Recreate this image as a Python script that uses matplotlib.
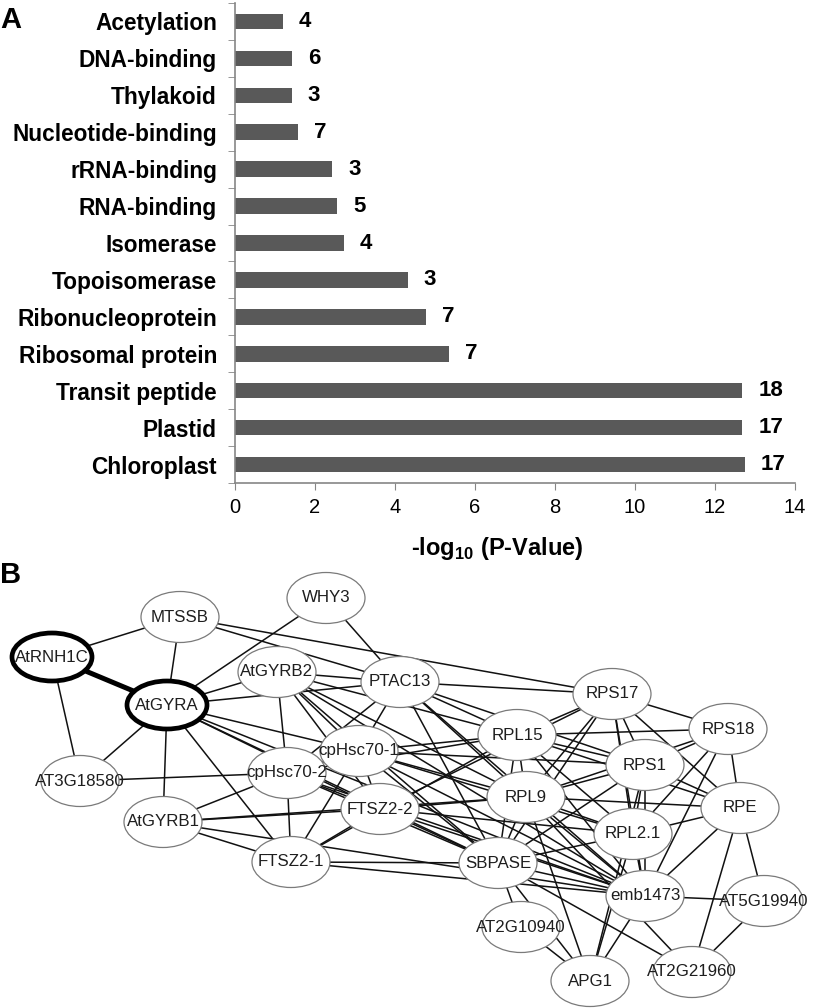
import matplotlib
matplotlib.use("Agg")
import matplotlib.pyplot as plt
from matplotlib.patches import Ellipse

plt.rcParams['font.family'] = ['Liberation Sans', 'DejaVu Sans']
plt.rcParams['mathtext.fontset'] = 'custom'
plt.rcParams['mathtext.rm'] = 'Liberation Sans'
plt.rcParams['mathtext.bf'] = 'Liberation Sans:bold'

# ---------------- Panel A data ----------------
categories = ["Chloroplast", "Plastid", "Transit peptide", "Ribosomal protein",
              "Ribonucleoprotein", "Topoisomerase", "Isomerase", "RNA-binding",
              "rRNA-binding", "Nucleotide-binding", "Thylakoid", "DNA-binding",
              "Acetylation"]
neglog_p = [12.75, 12.68, 12.68, 5.34, 4.77, 4.32, 2.72, 2.55, 2.43, 1.58, 1.42, 1.42, 1.20]
gene_counts = [17, 17, 18, 7, 7, 3, 4, 5, 3, 7, 3, 6, 4]
x_ticks = [0, 2, 4, 6, 8, 10, 12, 14]

# ---------------- Panel B data ----------------
nodes = ["MTSSB", "WHY3", "AtRNH1C", "AtGYRA", "AtGYRB2", "PTAC13", "cpHsc70-1",
         "cpHsc70-2", "AT3G18580", "AtGYRB1", "FTSZ2-2", "FTSZ2-1", "RPS17", "RPS18",
         "RPL15", "RPS1", "RPL9", "RPE", "RPL2.1", "SBPASE", "emb1473", "AT5G19940",
         "AT2G10940", "APG1", "AT2G21960"]
node_x = [180, 326, 52, 167, 277, 400, 359, 287, 80, 163, 380, 291, 612, 728,
          517, 645, 526, 740, 633, 498, 645, 764, 521, 590, 692]
node_y = [617, 598, 657, 705, 672, 682, 751, 773, 781, 822, 809, 862, 694, 729,
          735, 765, 797, 808, 834, 863, 896, 901, 927, 981, 972]
highlight = ["AtRNH1C", "AtGYRA"]
edges = [
    ("AtRNH1C", "MTSSB"), ("AtRNH1C", "AT3G18580"),
    ("MTSSB", "AtGYRA"), ("MTSSB", "PTAC13"), ("MTSSB", "RPS17"),
    ("WHY3", "AtGYRA"), ("WHY3", "PTAC13"),
    ("AtGYRA", "AtGYRB2"), ("AtGYRA", "PTAC13"), ("AtGYRA", "AT3G18580"),
    ("AtGYRA", "AtGYRB1"), ("AtGYRA", "FTSZ2-1"), ("AtGYRA", "FTSZ2-2"),
    ("AtGYRA", "cpHsc70-1"), ("AtGYRA", "SBPASE"), ("AtGYRA", "emb1473"),
    ("AtGYRB2", "PTAC13"), ("AtGYRB2", "cpHsc70-2"), ("AtGYRB2", "cpHsc70-1"),
    ("AtGYRB2", "FTSZ2-2"), ("AtGYRB2", "RPL9"), ("AtGYRB2", "SBPASE"),
    ("AtGYRB2", "emb1473"), ("AtGYRB2", "RPL15"),
    ("PTAC13", "cpHsc70-2"), ("PTAC13", "cpHsc70-1"), ("PTAC13", "RPS17"),
    ("PTAC13", "RPL15"), ("PTAC13", "RPL9"), ("PTAC13", "SBPASE"),
    ("PTAC13", "emb1473"), ("PTAC13", "RPS1"),
    ("cpHsc70-1", "cpHsc70-2"), ("cpHsc70-1", "RPL15"), ("cpHsc70-1", "RPS1"),
    ("cpHsc70-1", "RPL9"), ("cpHsc70-1", "FTSZ2-2"), ("cpHsc70-1", "FTSZ2-1"),
    ("cpHsc70-1", "SBPASE"), ("cpHsc70-1", "RPL2.1"), ("cpHsc70-1", "emb1473"),
    ("cpHsc70-2", "AT3G18580"), ("cpHsc70-2", "AtGYRB1"), ("cpHsc70-2", "FTSZ2-1"),
    ("cpHsc70-2", "FTSZ2-2"), ("cpHsc70-2", "SBPASE"), ("cpHsc70-2", "emb1473"),
    ("cpHsc70-2", "RPL15"),
    ("AtGYRB1", "FTSZ2-2"), ("AtGYRB1", "FTSZ2-1"), ("AtGYRB1", "RPL9"),
    ("AtGYRB1", "emb1473"),
    ("FTSZ2-1", "FTSZ2-2"), ("FTSZ2-1", "SBPASE"), ("FTSZ2-1", "emb1473"),
    ("FTSZ2-1", "RPL15"),
    ("FTSZ2-2", "RPL9"), ("FTSZ2-2", "SBPASE"), ("FTSZ2-2", "emb1473"),
    ("FTSZ2-2", "RPL2.1"), ("FTSZ2-2", "RPS17"),
    ("RPL15", "RPS17"), ("RPL15", "RPS18"), ("RPL15", "RPS1"), ("RPL15", "RPL9"),
    ("RPL15", "RPL2.1"), ("RPL15", "RPE"), ("RPL15", "emb1473"), ("RPL15", "SBPASE"),
    ("RPS17", "RPS18"), ("RPS17", "RPS1"), ("RPS17", "RPL9"), ("RPS17", "RPL2.1"),
    ("RPS17", "RPE"), ("RPS17", "emb1473"), ("RPS17", "SBPASE"),
    ("RPS18", "RPS1"), ("RPS18", "RPL9"), ("RPS18", "RPL2.1"), ("RPS18", "emb1473"),
    ("RPS18", "RPE"),
    ("RPS1", "RPL9"), ("RPS1", "RPL2.1"), ("RPS1", "RPE"), ("RPS1", "SBPASE"),
    ("RPS1", "emb1473"), ("RPS1", "APG1"),
    ("RPL9", "RPE"), ("RPL9", "RPL2.1"), ("RPL9", "SBPASE"), ("RPL9", "emb1473"),
    ("RPL9", "APG1"), ("RPL9", "AT2G21960"),
    ("RPL2.1", "RPE"), ("RPL2.1", "SBPASE"), ("RPL2.1", "emb1473"), ("RPL2.1", "APG1"),
    ("RPE", "emb1473"), ("RPE", "AT5G19940"), ("RPE", "AT2G21960"),
    ("SBPASE", "emb1473"), ("SBPASE", "AT2G10940"), ("SBPASE", "AT2G21960"),
    ("SBPASE", "APG1"),
    ("emb1473", "AT5G19940"), ("emb1473", "APG1"),
    ("AT2G10940", "APG1"), ("AT5G19940", "AT2G21960"),
]
thick_edges = [("AtRNH1C", "AtGYRA")]

# ---------------- Figure ----------------
fig = plt.figure(figsize=(8.19, 10.08), dpi=100)

W, H = 819.0, 1008.0
ax = fig.add_axes([235 / W, 1 - 483 / H, 560 / W, 480 / H])
ypos = list(range(len(categories)))
ax.barh(ypos, neglog_p, height=0.42, color='#595959', zorder=2)
for yy, v, c in zip(ypos, neglog_p, gene_counts):
    ax.annotate(str(c), (v, yy), xytext=(11.5, 0), textcoords='offset points',
                ha='left', va='center', fontsize=16, fontweight='bold', color='black')
ax.set_xlim(0, 14)
ax.set_ylim(-0.5, len(categories) - 0.5)
ax.set_xticks(x_ticks)
ax.set_xticklabels([str(t) for t in x_ticks], fontsize=14.5)
ax.set_yticks(ypos)
ax.set_yticklabels(categories, fontsize=16.3, fontweight='bold')
ax.set_yticks([i - 0.5 for i in range(len(categories) + 1)], minor=True)
ax.tick_params(axis='y', which='major', length=0, pad=13)
ax.tick_params(axis='y', which='minor', length=5, color='#868686', direction='out')
ax.tick_params(axis='x', which='major', length=5, color='#868686', direction='out', pad=6)
for s in ['top', 'right']:
    ax.spines[s].set_visible(False)
for s in ['left', 'bottom']:
    ax.spines[s].set_color('#868686')
    ax.spines[s].set_linewidth(1.2)
fig.text(497 / W, 1 - 549 / H, r'-log$_{\mathbf{10}}$ (P-Value)', fontsize=17,
         fontweight='bold', ha='center', va='center')

fig.text(0 / W, 1 - 20 / H, 'A', fontsize=21, fontweight='bold', va='center', ha='left')
fig.text(0 / W, 1 - 575 / H, 'B', fontsize=21, fontweight='bold', va='center', ha='left')

# ---------------- Network ----------------
nax = fig.add_axes([0, 0, 1, 1])
nax.set_xlim(0, W)
nax.set_ylim(H, 0)
nax.axis('off')
nax.patch.set_alpha(0)
pos = {n: (x, y) for n, x, y in zip(nodes, node_x, node_y)}
for a, b in edges:
    nax.plot([pos[a][0], pos[b][0]], [pos[a][1], pos[b][1]], color='#111111',
             lw=1.1, zorder=1, solid_capstyle='butt')
for a, b in thick_edges:
    nax.plot([pos[a][0], pos[b][0]], [pos[a][1], pos[b][1]], color='black',
             lw=3.6, zorder=1)
for n in nodes:
    x, y = pos[n]
    if n in highlight:
        e = Ellipse((x, y), 80, 48, facecolor='white', edgecolor='black', lw=3.4, zorder=2)
    else:
        e = Ellipse((x, y), 78, 51, facecolor='white', edgecolor='#7a7a7a', lw=0.9, zorder=2)
    nax.add_patch(e)
    nax.text(x, y, n, ha='center', va='center', fontsize=12.2, color='#1e1e1e', zorder=3)

fig.savefig('out.png', dpi=100)
